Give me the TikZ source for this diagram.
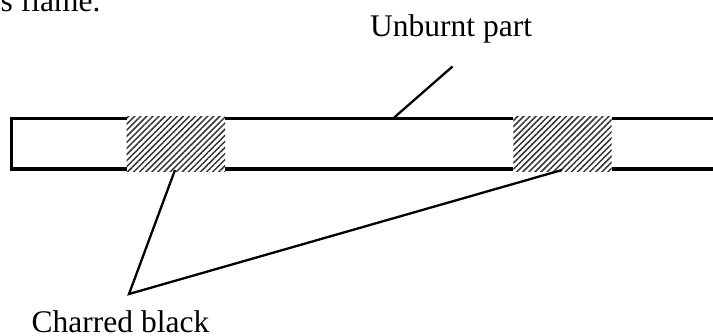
\documentclass[tikz,border=0pt]{standalone}
\usepackage{fontspec}
\setmainfont{Liberation Serif}
\usetikzlibrary{patterns.meta}
\begin{document}
\begin{tikzpicture}[x=1pt,y=-1pt,
  label text/.style={font=\fontsize{31.5}{36}\selectfont, inner sep=0pt, anchor=base west},
  bar edge/.style={line width=3.6pt},
  leader/.style={line width=2.3pt},
  charred/.style={pattern={Lines[angle=45,distance=4.3pt,line width=1.5pt]}, pattern color=black!80}]
  \useasboundingbox (0,0) rectangle (713,336);
  \clip (0,0) rectangle (713,336);

  % tail of the preceding sentence
  \node[label text] (caption) at (0.5,11.5) {s flame.};

  % the strip, open on its right end
  \draw[bar edge, line cap=butt] (713,118.5) -- (11.3,118.5) -- (11.3,169.3) -- (713,169.3);

  % charred patches
  \fill[white] (126.7,116.5) rectangle (225,171.3);
  \fill[charred] (126.7,116.5) rectangle (225,171.3);
  \fill[white] (513.3,116.5) rectangle (611.7,171.3);
  \fill[charred] (513.3,116.5) rectangle (611.7,171.3);

  % labels
  \node[label text] (unburnt) at (370,37) {Unburnt part};
  \node[label text] (black) at (31.5,333) {Charred black};

  % leader lines
  \coordinate (ustart) at (452.5,66.5);
  \coordinate (uend) at (392.5,119);
  \coordinate (apex) at (129,294);
  \coordinate (c1) at (175,170);
  \coordinate (c2) at (562,170);
  \draw[leader] (ustart) -- (uend);
  \draw[leader, line join=miter] (c1) -- (apex) -- (c2);
\end{tikzpicture}
\end{document}
